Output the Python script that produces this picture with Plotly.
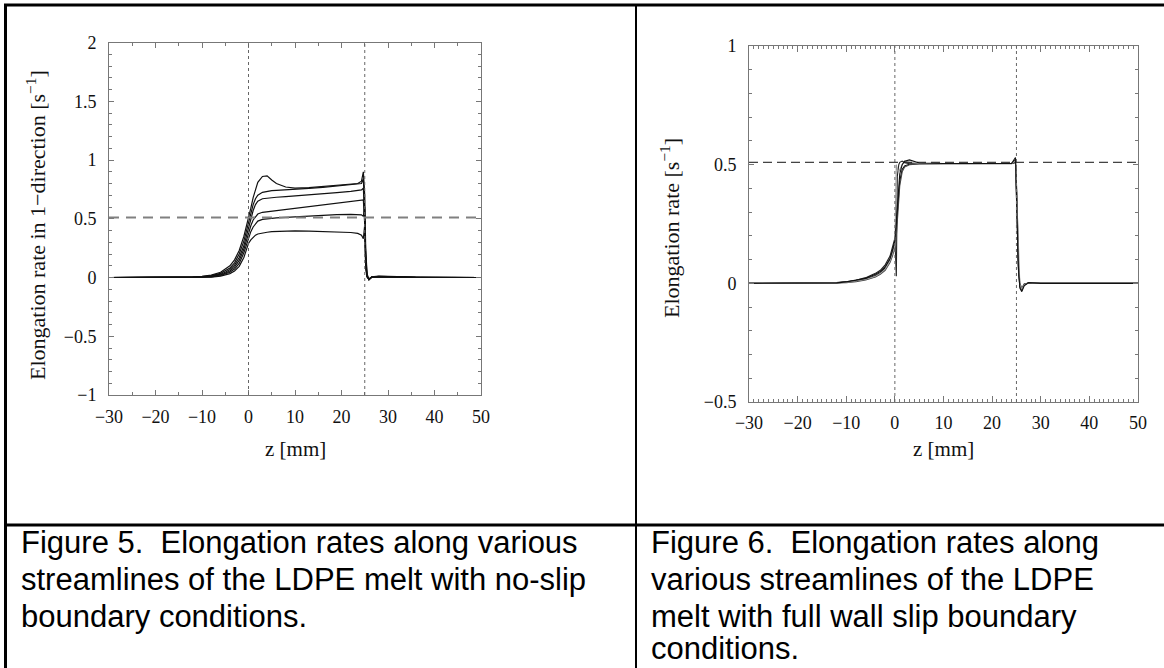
import plotly.graph_objects as go

W, H = 1164, 668

# ---------------- data ----------------
Z_LEFT = [-30, -14, -12, -10, -8, -6, -5, -4, -3, -2, -1, 0, 0.5, 1, 1.5, 2, 3, 4, 5, 6,
          8, 10, 13, 16, 19, 22, 23.5, 24.3, 24.7, 25.0, 25.2, 25.5, 25.9, 26.5, 28, 32, 36, 50]

LEFT_A = [0, 0, 0.004, 0.01, 0.02, 0.045, 0.07, 0.1, 0.15, 0.23, 0.35, 0.5, 0.59, 0.68, 0.75, 0.81, 0.86, 0.865, 0.83, 0.80,
          0.77, 0.76, 0.765, 0.775, 0.785, 0.795, 0.80, 0.82, 0.90, 0.70, 0.25, 0.03, -0.015, 0.005, 0.012, 0.008, 0.002, 0]
LEFT_B = [0, 0, 0.003, 0.008, 0.016, 0.035, 0.055, 0.08, 0.125, 0.2, 0.31, 0.46, 0.55, 0.62, 0.67, 0.70, 0.725, 0.735, 0.74, 0.742,
          0.745, 0.75, 0.758, 0.767, 0.778, 0.79, 0.797, 0.80, 0.84, 0.55, 0.2, 0.02, -0.02, 0.004, 0.01, 0.006, 0.002, 0]
LEFT_C = [0, 0, 0.002, 0.006, 0.012, 0.028, 0.045, 0.068, 0.105, 0.17, 0.27, 0.42, 0.5, 0.57, 0.62, 0.65, 0.67, 0.675, 0.68, 0.683,
          0.688, 0.693, 0.702, 0.712, 0.722, 0.733, 0.74, 0.745, 0.76, 0.5, 0.15, 0.01, -0.02, 0.003, 0.008, 0.005, 0.001, 0]
LEFT_D = [0, 0, 0, 0.004, 0.009, 0.022, 0.036, 0.055, 0.088, 0.145, 0.24, 0.38, 0.44, 0.49, 0.52, 0.54, 0.555, 0.56, 0.565, 0.57,
          0.58, 0.59, 0.605, 0.62, 0.635, 0.648, 0.653, 0.656, 0.66, 0.45, 0.12, 0.01, -0.015, 0.003, 0.008, 0.004, 0.001, 0]
LEFT_E = [0, 0, 0, 0.002, 0.006, 0.017, 0.028, 0.045, 0.072, 0.12, 0.21, 0.34, 0.39, 0.43, 0.46, 0.48, 0.495, 0.5, 0.503, 0.507,
          0.512, 0.517, 0.523, 0.53, 0.535, 0.538, 0.537, 0.533, 0.52, 0.6, 0.1, 0.005, -0.015, 0.003, 0.007, 0.004, 0.001, 0]
LEFT_F = [0, 0, 0, 0.001, 0.004, 0.012, 0.02, 0.033, 0.055, 0.095, 0.17, 0.29, 0.32, 0.345, 0.36, 0.37, 0.38, 0.385, 0.39, 0.392,
          0.395, 0.396, 0.395, 0.392, 0.388, 0.383, 0.375, 0.36, 0.33, 0.45, 0.08, 0.005, -0.01, 0.002, 0.006, 0.003, 0.001, 0]
LEFT_SERIES = [LEFT_A, LEFT_B, LEFT_C, LEFT_D, LEFT_E, LEFT_F]

Z_RIGHT = [-30, -15, -12, -10, -8, -6, -4, -3, -2, -1, -0.5, 0, 0.3, 0.5, 0.8, 1, 1.5, 2, 3, 5,
           10, 20, 24, 24.8, 25.1, 25.4, 25.7, 26.1, 26.6, 27.5, 30, 50]
RIGHT_1 = [0, 0, 0.002, 0.005, 0.01, 0.018, 0.033, 0.045, 0.065, 0.1, 0.13, 0.17, 0.24, 0.3, 0.38, 0.43, 0.48, 0.495, 0.502, 0.505,
           0.505, 0.505, 0.505, 0.51, 0.35, 0.08, -0.01, -0.03, -0.005, 0.002, 0, 0]
RIGHT_2 = [0, 0, 0.003, 0.007, 0.013, 0.024, 0.042, 0.055, 0.078, 0.115, 0.15, 0.19, 0.03, 0.45, 0.5, 0.51, 0.515, 0.508, 0.504, 0.504,
           0.504, 0.504, 0.505, 0.52, 0.3, 0.06, -0.015, -0.025, -0.004, 0.001, 0, 0]
RIGHT_3 = [0, 0, 0.001, 0.003, 0.007, 0.014, 0.027, 0.038, 0.055, 0.088, 0.115, 0.15, 0.2, 0.27, 0.36, 0.41, 0.47, 0.49, 0.5, 0.503,
           0.504, 0.504, 0.504, 0.508, 0.38, 0.1, 0.0, -0.02, -0.003, 0.001, 0, 0]
RIGHT_4 = [0, 0, 0.002, 0.004, 0.009, 0.017, 0.03, 0.042, 0.06, 0.095, 0.125, 0.16, 0.5, 0.48, 0.47, 0.48, 0.5, 0.515, 0.51, 0.505,
           0.505, 0.505, 0.505, 0.515, 0.34, 0.09, -0.005, -0.025, -0.006, 0.002, 0, 0]
RIGHT_5 = [0, 0, 0.002, 0.006, 0.012, 0.021, 0.038, 0.05, 0.07, 0.105, 0.14, 0.18, 0.26, 0.33, 0.42, 0.46, 0.5, 0.515, 0.52, 0.507,
           0.505, 0.505, 0.505, 0.53, 0.32, 0.07, -0.02, -0.035, -0.01, 0.003, 0, 0]
RIGHT_SERIES = [RIGHT_1, RIGHT_2, RIGHT_3, RIGHT_4, RIGHT_5]
RIGHT_COLORS = ["#000000", "#222222", "#444444", "#999999", "#111111"]

TARGET_RATE = 0.51          # dashed reference line
DIE_EDGES = [0, 25]         # dotted vertical lines

X_TICKS = [-30, -20, -10, 0, 10, 20, 30, 40, 50]
X_TICKTEXT = ["\u221230", "\u221220", "\u221210", "0", "10", "20", "30", "40", "50"]
LEFT_Y_TICKS = [-1, -0.5, 0, 0.5, 1, 1.5, 2]
LEFT_Y_TICKTEXT = ["\u22121", "\u22120.5", "0", "0.5", "1", "1.5", "2"]
RIGHT_Y_TICKS = [-0.5, 0, 0.5, 1]
RIGHT_Y_TICKTEXT = ["\u22120.5", "0", "0.5", "1"]

LEFT_YTITLE = "Elongation rate in 1\u2212direction [s<sup>\u22121</sup>]"
RIGHT_YTITLE = "Elongation rate [s<sup>\u22121</sup>]"
XTITLE = "z [mm]"
CAPTION_LEFT = ["Figure 5.  Elongation rates along various",
                "streamlines of the LDPE melt with no-slip",
                "boundary conditions."]
CAPTION_RIGHT = ["Figure 6.  Elongation rates along",
                 "various streamlines of the LDPE",
                 "melt with full wall slip boundary",
                 "conditions."]

# ---------------- helpers ----------------
def px(x):
    return x / W

def py(y):
    return 1 - y / H

SERIF = "Liberation Serif, Times New Roman, serif"
SANS = "Liberation Sans, Arial, sans-serif"

fig = go.Figure()

for ys in LEFT_SERIES:
    fig.add_trace(go.Scatter(x=Z_LEFT, y=ys, mode="lines", xaxis="x", yaxis="y",
                             line=dict(color="#111111", width=1.2), showlegend=False,
                             hoverinfo="skip"))
for ys, c in zip(RIGHT_SERIES, RIGHT_COLORS):
    fig.add_trace(go.Scatter(x=Z_RIGHT, y=ys, mode="lines", xaxis="x2", yaxis="y2",
                             line=dict(color=c, width=1.1), showlegend=False,
                             hoverinfo="skip"))

axis_common = dict(showgrid=False, zeroline=False, showline=True, mirror="allticks",
                   automargin=False,
                   ticks="inside", linecolor="#777777", tickcolor="#777777", linewidth=1,
                   tickfont=dict(family=SERIF, size=18, color="#111111"))

fig.update_layout(
    width=W, height=H, margin=dict(l=0, r=0, t=0, b=0, pad=0, autoexpand=False),
    paper_bgcolor="white", plot_bgcolor="white", showlegend=False,
    xaxis=dict(domain=[px(109), px(481)], range=[-30, 50], anchor="y",
               tickvals=X_TICKS, ticktext=X_TICKTEXT, ticklen=5,
               minor=dict(dtick=5, ticklen=3, ticks="inside", tickcolor="#777777"),
               ticklabelstandoff=5, **axis_common),
    yaxis=dict(domain=[py(395), py(42.5)], range=[-1, 2], anchor="x",
               tickvals=LEFT_Y_TICKS, ticktext=LEFT_Y_TICKTEXT, ticklen=5,
               minor=dict(dtick=0.1, ticklen=3, ticks="inside", tickcolor="#777777"),
               ticklabelstandoff=8, **axis_common),
    xaxis2=dict(domain=[px(749), px(1138)], range=[-30, 50], anchor="y2",
                tickvals=X_TICKS, ticktext=X_TICKTEXT, ticklen=6,
                minor=dict(dtick=1, ticklen=3, ticks="inside", tickcolor="#777777"),
                ticklabelstandoff=4, **axis_common),
    yaxis2=dict(domain=[py(402), py(46)], range=[-0.5, 1], anchor="x2",
                tickvals=RIGHT_Y_TICKS, ticktext=RIGHT_Y_TICKTEXT, ticklen=5,
                minor=dict(dtick=0.1, ticklen=3, ticks="inside", tickcolor="#777777"),
                ticklabelstandoff=8, **axis_common),
)

shapes = []
for xr, yr in (("x", "y domain"), ("x2", "y2 domain")):
    for z in DIE_EDGES:
        shapes.append(dict(type="line", xref=xr, yref=yr, x0=z, x1=z, y0=0, y1=1,
                           line=dict(color="#666666", width=1, dash="dot")))
shapes.append(dict(type="line", xref="x domain", yref="y", x0=0, x1=1,
                   y0=TARGET_RATE, y1=TARGET_RATE,
                   line=dict(color="#808080", width=2, dash="10px,7px")))
shapes.append(dict(type="line", xref="x2 domain", yref="y2", x0=0, x1=1,
                   y0=TARGET_RATE, y1=TARGET_RATE,
                   line=dict(color="#111111", width=1, dash="9px,5px")))
border = dict(color="black", width=3)
shapes += [
    dict(type="line", xref="paper", yref="paper", x0=px(4), x1=1, y0=py(5), y1=py(5), line=border),
    dict(type="line", xref="paper", yref="paper", x0=px(5.5), x1=px(5.5), y0=py(4), y1=0, line=border),
    dict(type="line", xref="paper", yref="paper", x0=px(636), x1=px(636), y0=py(4), y1=0,
         line=dict(color="black", width=2)),
    dict(type="line", xref="paper", yref="paper", x0=px(4), x1=1, y0=py(525), y1=py(525), line=border),
]
fig.update_layout(shapes=shapes)

ann = []
ann.append(dict(text=LEFT_YTITLE, x=px(36), y=py(225), xref="paper", yref="paper",
                textangle=-90, showarrow=False, xanchor="center", yanchor="middle",
                font=dict(family=SERIF, size=22, color="#111111")))
ann.append(dict(text=RIGHT_YTITLE, x=px(670), y=py(228), xref="paper", yref="paper",
                textangle=-90, showarrow=False, xanchor="center", yanchor="middle",
                font=dict(family=SERIF, size=22, color="#111111")))
ann.append(dict(text=XTITLE, x=px(295), y=py(449), xref="paper", yref="paper",
                showarrow=False, xanchor="center", yanchor="middle",
                font=dict(family=SERIF, size=21, color="#111111")))
ann.append(dict(text=XTITLE, x=px(943), y=py(449), xref="paper", yref="paper",
                showarrow=False, xanchor="center", yanchor="middle",
                font=dict(family=SERIF, size=21, color="#111111")))

line_centers = [542, 579, 616]
for i, t in enumerate(CAPTION_LEFT):
    ann.append(dict(text=t, x=px(19), y=py(line_centers[i]), xref="paper", yref="paper",
                    showarrow=False, xanchor="left", yanchor="middle",
                    font=dict(family=SANS, size=31, color="black")))
for i, t in enumerate(CAPTION_RIGHT):
    if i < 3:
        ann.append(dict(text=t, x=px(649), y=py(line_centers[i]), xref="paper", yref="paper",
                        showarrow=False, xanchor="left", yanchor="middle",
                        font=dict(family=SANS, size=31, color="black")))
    else:
        # last line sits on the bottom edge of the page, keep its box inside
        ann.append(dict(text=t, x=px(649), y=0, xref="paper", yref="paper",
                        showarrow=False, xanchor="left", yanchor="bottom",
                        font=dict(family=SANS, size=31, color="black")))
fig.update_layout(annotations=ann)

# the page's default 8px body margin would shift the whole figure; remove it
fig.write_html("out.html",
               config={"displayModeBar": False},
               post_script="document.body.style.margin='0px';document.body.style.overflow='hidden';")
